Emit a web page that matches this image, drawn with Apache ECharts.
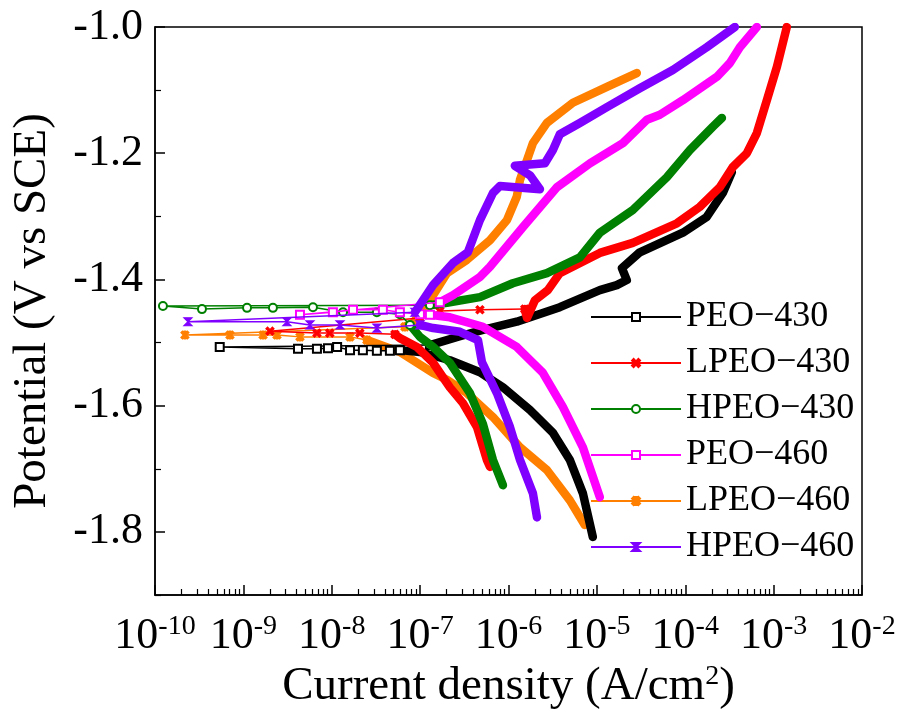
<!DOCTYPE html>
<html>
<head>
<meta charset="utf-8">
<title>Tafel curves</title>
<script src="https://cdn.jsdelivr.net/npm/echarts@6/dist/echarts.min.js"></script>
<style>
html, body { margin: 0; padding: 0; background: #fff; }
#chart { width: 900px; height: 716px; }
</style>
</head>
<body>
<div id="chart"></div>
<script>
// legend order
const sampleNames = ["PEO−430", "LPEO−430", "HPEO−430", "PEO−460", "LPEO−460", "HPEO−460"];

// points are [current density (A/cm2), potential (V vs SCE)]
// cathodic: lower end -> near Ecorr, ecorr: thin part with markers, anodic: Ecorr -> upper end
const peo430Cathodic = [[9.0e-6, -1.808], [6.95e-6, -1.739], [4.95e-6, -1.686], [3.18e-6, -1.643], [1.75e-6, -1.607], [8.65e-7, -1.571], [4.75e-7, -1.547], [2.17e-7, -1.528], [9.95e-8, -1.515], [5.9e-8, -1.512]];
const peo430Ecorr = [[5.9e-8, -1.512], [4.55e-8, -1.513], [3.24e-8, -1.513], [2.25e-8, -1.512], [1.61e-8, -1.512], [1.15e-8, -1.507], [9.06e-9, -1.509], [6.8e-9, -1.510], [4.15e-9, -1.510], [5.4e-10, -1.507], [1.29e-7, -1.504]];
const peo430Anodic = [[1.29e-7, -1.504], [2.82e-7, -1.490], [5.13e-7, -1.480], [1.24e-6, -1.467], [3.81e-6, -1.444], [1.08e-5, -1.417], [1.68e-5, -1.409], [2.18e-5, -1.401], [1.92e-5, -1.382], [3.06e-5, -1.357], [9.4e-5, -1.326], [1.75e-4, -1.301], [2.66e-4, -1.263], [3.37e-4, -1.230]];

const lpeo430Cathodic = [[6.17e-7, -1.697], [5.7e-7, -1.686], [4.4e-7, -1.634], [3.05e-7, -1.596], [2.17e-7, -1.571], [1.40e-7, -1.532], [9.2e-8, -1.507], [5.9e-8, -1.493], [5.19e-8, -1.487]];
const lpeo430Ecorr = [[5.19e-8, -1.487], [2.08e-8, -1.485], [9.5e-9, -1.485], [6.8e-9, -1.485], [2.0e-9, -1.482], [9.95e-8, -1.461], [1.67e-7, -1.450], [4.75e-7, -1.448], [1.53e-6, -1.447]];
const lpeo430Anodic = [[1.53e-6, -1.447], [1.62e-6, -1.461], [1.99e-6, -1.433], [2.79e-6, -1.417], [3.81e-6, -1.390], [1.08e-5, -1.358], [2.55e-5, -1.342], [8.04e-5, -1.311], [1.46e-4, -1.285], [2.46e-4, -1.254], [3.45e-4, -1.222], [4.98e-4, -1.200], [6.46e-4, -1.168], [8.38e-4, -1.116], [1.09e-3, -1.063], [1.41e-3, -1.0]];

const hpeo430Cathodic = [[8.65e-7, -1.726], [6.67e-7, -1.686], [5.13e-7, -1.629], [3.66e-7, -1.580], [2.17e-7, -1.532], [1.40e-7, -1.507], [9.95e-8, -1.491], [7.67e-8, -1.472]];
const hpeo430Ecorr = [[7.67e-8, -1.472], [5.9e-8, -1.455], [3.24e-8, -1.452], [1.34e-8, -1.452], [6.13e-9, -1.444], [2.16e-9, -1.445], [1.1e-9, -1.445], [3.4e-10, -1.447], [1.23e-10, -1.442], [1.29e-7, -1.441]];
const hpeo430Anodic = [[1.29e-7, -1.441], [2.01e-7, -1.437], [4.75e-7, -1.428], [1.12e-6, -1.406], [2.72e-6, -1.390], [6.42e-6, -1.365], [1.08e-5, -1.326], [2.55e-5, -1.290], [6.19e-5, -1.238], [1.13e-4, -1.195], [2.05e-4, -1.158], [2.6e-4, -1.144]];

const peo460Cathodic = [[1.08e-5, -1.745], [6.95e-6, -1.666], [4.12e-6, -1.602], [2.45e-6, -1.548], [1.24e-6, -1.507], [5.13e-7, -1.475], [2.17e-7, -1.460], [1.29e-7, -1.456]];
const peo460Ecorr = [[1.29e-7, -1.456], [9.95e-8, -1.455], [5.9e-8, -1.452], [3.79e-8, -1.448], [1.74e-8, -1.448], [1.03e-8, -1.452], [4.37e-9, -1.456], [1.67e-7, -1.436]];
const peo460Anodic = [[1.67e-7, -1.436], [2.35e-7, -1.425], [4.75e-7, -1.396], [6.17e-7, -1.380], [1.46e-6, -1.317], [3.53e-6, -1.254], [8.34e-6, -1.216], [1.97e-5, -1.184], [3.68e-5, -1.147], [5.16e-5, -1.139], [9.4e-5, -1.116], [2.28e-4, -1.079], [3.2e-4, -1.057], [4.15e-4, -1.032], [6.46e-4, -1.0]];

const lpeo460Cathodic = [[7.3e-6, -1.789], [4.95e-6, -1.750], [2.72e-6, -1.702], [1.35e-6, -1.666], [6.67e-7, -1.618], [3.38e-7, -1.580], [2.01e-7, -1.559], [1.40e-7, -1.548], [5.9e-8, -1.515], [2.5e-8, -1.496]];
const lpeo460Ecorr = [[2.5e-8, -1.496], [1.61e-8, -1.491], [4.37e-9, -1.491], [2.4e-9, -1.488], [1.67e-9, -1.488], [7.05e-10, -1.488], [2.18e-10, -1.488], [6.73e-8, -1.475]];
const lpeo460Anodic = [[6.73e-8, -1.475], [8.3e-8, -1.469], [1.29e-7, -1.433], [2.01e-7, -1.390], [3.38e-7, -1.369], [6.17e-7, -1.338], [9.6e-7, -1.306], [1.24e-6, -1.269], [1.35e-6, -1.242], [1.62e-6, -1.211], [1.89e-6, -1.184], [2.72e-6, -1.152], [5.35e-6, -1.120], [1.3e-5, -1.095], [2.83e-5, -1.073]];

const hpeo460Cathodic = [[2.1e-6, -1.777], [1.89e-6, -1.739], [1.35e-6, -1.686], [1.04e-6, -1.634], [7.39e-7, -1.580], [5.0e-7, -1.531], [4.51e-7, -1.496], [2.82e-7, -1.483], [1.40e-7, -1.477], [9.95e-8, -1.472]];
const hpeo460Ecorr = [[9.95e-8, -1.472], [3.24e-8, -1.477], [1.24e-8, -1.472], [5.67e-9, -1.472], [3.11e-9, -1.467], [2.36e-10, -1.467], [8.73e-8, -1.452]];
const hpeo460Anodic = [[8.73e-8, -1.452], [1.40e-7, -1.409], [2.35e-7, -1.374], [3.47e-7, -1.357], [4.75e-7, -1.306], [6.67e-7, -1.263], [8.0e-7, -1.252], [2.27e-6, -1.257], [1.75e-6, -1.235], [1.18e-6, -1.220], [2.58e-6, -1.216], [3.18e-6, -1.195], [3.81e-6, -1.170], [6.42e-6, -1.152], [1.3e-5, -1.127], [3.06e-5, -1.097], [7.24e-5, -1.068], [1.75e-4, -1.032], [3.64e-4, -1.0]];

// axis ticks
const xDecades = [1e-10, 1e-9, 1e-8, 1e-7, 1e-6, 1e-5, 1e-4, 1e-3, 1e-2];
const yMajorTicks = [-1.8, -1.6, -1.4, -1.2, -1.0];
const yMinorTicks = [-1.9, -1.7, -1.5, -1.3, -1.1];

const xMinorTicks = [];
for (let d = 0; d < xDecades.length - 1; d++) {
  for (let k = 2; k <= 9; k++) xMinorTicks.push(k * xDecades[d]);
}

const font = "'Liberation Serif', 'Times New Roman', serif";
const colors = ["#000000", "#ff0000", "#008000", "#ff00ff", "#ff8000", "#8000ff"];
const symbols = [
  "emptyRect",
  "path://M0,2L2,0L5,3L8,0L10,2L7,5L10,8L8,10L5,7L2,10L0,8L3,5Z",
  "emptyCircle",
  "emptyRect",
  "path://M0,2L2,0L5,3L8,0L10,2L7,5L10,8L8,10L5,7L2,10L0,8L3,5ZM4,0L6,0L6,10L4,10Z",
  "path://M0,0L10,0L5,5L10,10L0,10L5,5Z"
];
// drawing order (orange lowest, red above black)
const zOrder = [3, 4, 5, 6, 2, 7];

const samples = [
  [peo430Ecorr, peo430Cathodic, peo430Anodic],
  [lpeo430Ecorr, lpeo430Cathodic, lpeo430Anodic],
  [hpeo430Ecorr, hpeo430Cathodic, hpeo430Anodic],
  [peo460Ecorr, peo460Cathodic, peo460Anodic],
  [lpeo460Ecorr, lpeo460Cathodic, lpeo460Anodic],
  [hpeo460Ecorr, hpeo460Cathodic, hpeo460Anodic]
];

let series = [];
samples.forEach((s, i) => {
  // thin part first so the legend takes its icon from it
  series.push({
    name: sampleNames[i],
    type: "line",
    data: s[0],
    z: zOrder[i],
    symbol: symbols[i],
    symbolSize: 8,
    showSymbol: true,
    lineStyle: { color: colors[i], width: 1.5 },
    itemStyle: { color: colors[i], borderColor: colors[i], borderWidth: 1.2 }
  });
  [s[1], s[2]].forEach(branch => {
    series.push({
      name: sampleNames[i],
      type: "line",
      data: branch,
      z: zOrder[i],
      showSymbol: false,
      lineStyle: { color: colors[i], width: 8.5, cap: "round", join: "round" },
      itemStyle: { color: colors[i] }
    });
  });
});

let chart = echarts.init(document.getElementById("chart"));
chart.setOption({
  animation: false,
  textStyle: { fontFamily: font, color: "#000" },
  grid: {
    left: 155, right: 38, top: 27, bottom: 121,
    show: true, borderColor: "#000", borderWidth: 1.5,
    containLabel: false
  },
  legend: {
    data: sampleNames,
    orient: "vertical",
    left: 585,
    top: 294,
    itemWidth: 90,
    itemHeight: 10,
    itemGap: 10,
    textStyle: { fontFamily: font, fontSize: 36, color: "#000" }
  },
  xAxis: [
    {
      type: "log",
      logBase: 10,
      min: 1e-10,
      max: 1e-2,
      splitLine: { show: false },
      axisLine: { onZero: false, lineStyle: { color: "#000", width: 1.5 } },
      axisTick: { inside: true, length: 10, customValues: xDecades, lineStyle: { color: "#000", width: 1.5 } },
      axisLabel: {
        customValues: xDecades,
        margin: 18,
        formatter: v => "{b|10}{s|" + Math.round(Math.log10(v)) + "}",
        rich: {
          b: { fontFamily: font, fontSize: 44, color: "#000", lineHeight: 46 },
          s: { fontFamily: font, fontSize: 28, color: "#000", verticalAlign: "top", lineHeight: 46 }
        }
      },
      name: "Current density (A/cm{s|2})",
      nameLocation: "middle",
      nameGap: 62,
      nameTextStyle: {
        fontFamily: font, fontSize: 47, color: "#000",
        rich: { s: { fontFamily: font, fontSize: 28, color: "#000", verticalAlign: "top", lineHeight: 46 } }
      }
    },
    {
      type: "log",
      logBase: 10,
      min: 1e-10,
      max: 1e-2,
      position: "bottom",
      splitLine: { show: false },
      axisLine: { show: false },
      axisTick: { inside: true, length: 6, customValues: xMinorTicks, lineStyle: { color: "#000", width: 1.2 } },
      axisLabel: { show: false }
    }
  ],
  yAxis: [
    {
      type: "value",
      min: -1.9,
      max: -1.0,
      splitLine: { show: false },
      axisLine: { show: true, onZero: false, lineStyle: { color: "#000", width: 1.5 } },
      axisTick: { inside: true, length: 10, customValues: yMajorTicks, lineStyle: { color: "#000", width: 1.5 } },
      axisLabel: {
        customValues: yMajorTicks,
        formatter: v => v.toFixed(1),
        fontFamily: font, fontSize: 44, color: "#000", margin: 12
      },
      name: "Potential (V vs SCE)",
      nameLocation: "middle",
      nameGap: 99,
      nameTextStyle: { fontFamily: font, fontSize: 47, color: "#000" }
    },
    {
      type: "value",
      min: -1.9,
      max: -1.0,
      position: "left",
      splitLine: { show: false },
      axisLine: { show: false },
      axisTick: { inside: true, length: 6, customValues: yMinorTicks, lineStyle: { color: "#000", width: 1.2 } },
      axisLabel: { show: false }
    }
  ],
  series: series
});
</script>
</body>
</html>
